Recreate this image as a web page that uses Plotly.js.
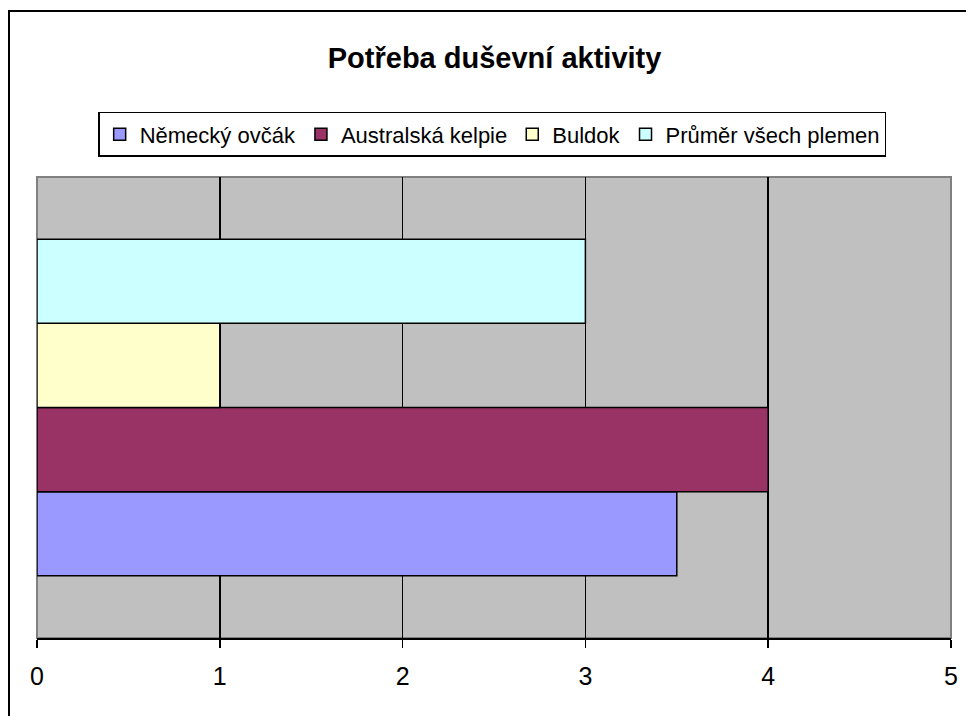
<!DOCTYPE html>
<html>
<head>
<meta charset="utf-8">
<script src="https://cdn.plot.ly/plotly-3.0.1.min.js"></script>
<style>
  html, body { margin: 0; padding: 0; background: #fff; }
  #wrap { position: relative; width: 966px; height: 716px; overflow: hidden; }
  #chart { position: absolute; left: 0; top: 0; width: 966px; height: 716px; }
  #frame { position: absolute; left: 8px; top: 10px; width: 1000px; height: 800px;
           border-left: 2px solid #000; border-top: 2px solid #000; pointer-events: none; }
</style>
</head>
<body>
<div id="wrap"><div id="chart"></div><div id="frame"></div></div>
<script>
const category = ["Potřeba duševní aktivity"];
const seriesNames = ["Německý ovčák", "Australská kelpie", "Buldok", "Průměr všech plemen"];
const seriesValues = [[3.5], [4], [1], [3]];
const seriesColors = ["#9999FF", "#993366", "#FFFFCC", "#CCFFFF"];
const xTicks = [0, 1, 2, 3, 4, 5];
const chartTitle = "Potřeba duševní aktivity";

const FONT = "Liberation Sans, Arial, sans-serif";

const traces = seriesNames.map((name, i) => ({
  type: "bar",
  orientation: "h",
  name: name,
  x: seriesValues[i],
  y: category,
  marker: { color: seriesColors[i], line: { color: "#000", width: 1.5 } },
  hoverinfo: "x+name"
}));

const layout = {
  width: 966, height: 716,
  margin: { l: 37, r: 15, t: 177, b: 78, pad: 0 },
  paper_bgcolor: "#fff",
  plot_bgcolor: "#C0C0C0",
  font: { family: FONT, color: "#000", size: 22 },
  title: {
    text: "<b>" + chartTitle + "</b>",
    font: { family: FONT, size: 29, color: "#000" },
    x: 0.512, xref: "container", xanchor: "center",
    y: 0.919, yref: "container", yanchor: "middle"
  },
  barmode: "group",
  bargap: 0.27,
  bargroupgap: 0,
  showlegend: true,
  legend: {
    orientation: "h",
    x: 0.498, xanchor: "center",
    y: 1.141, yanchor: "top",
    bgcolor: "#fff",
    bordercolor: "#000",
    borderwidth: 1.5,
    font: { family: FONT, size: 22, color: "#000" },
    traceorder: "normal",
    itemwidth: 30,
    tracegroupgap: 0
  },
  xaxis: {
    range: [0, 5],
    tickvals: xTicks,
    ticktext: xTicks.map(String),
    showgrid: true,
    gridcolor: "#000",
    gridwidth: 1.5,
    zeroline: false,
    showline: true,
    linecolor: "#000",
    linewidth: 2,
    ticks: "outside",
    ticklen: 8,
    tickwidth: 1.5,
    tickcolor: "#000",
    ticklabelstandoff: 7,
    tickfont: { family: FONT, size: 25, color: "#000" },
    fixedrange: true
  },
  yaxis: {
    showticklabels: false,
    showgrid: false,
    zeroline: false,
    showline: false,
    ticks: "",
    fixedrange: true
  },
  shapes: [{
    type: "rect", xref: "paper", yref: "paper",
    x0: 0, x1: 1, y0: 0, y1: 1,
    line: { color: "#808080", width: 2 },
    fillcolor: "rgba(0,0,0,0)",
    layer: "between"
  }]
};

Plotly.newPlot("chart", traces, layout, { displayModeBar: false, staticPlot: true });
</script>
</body>
</html>
